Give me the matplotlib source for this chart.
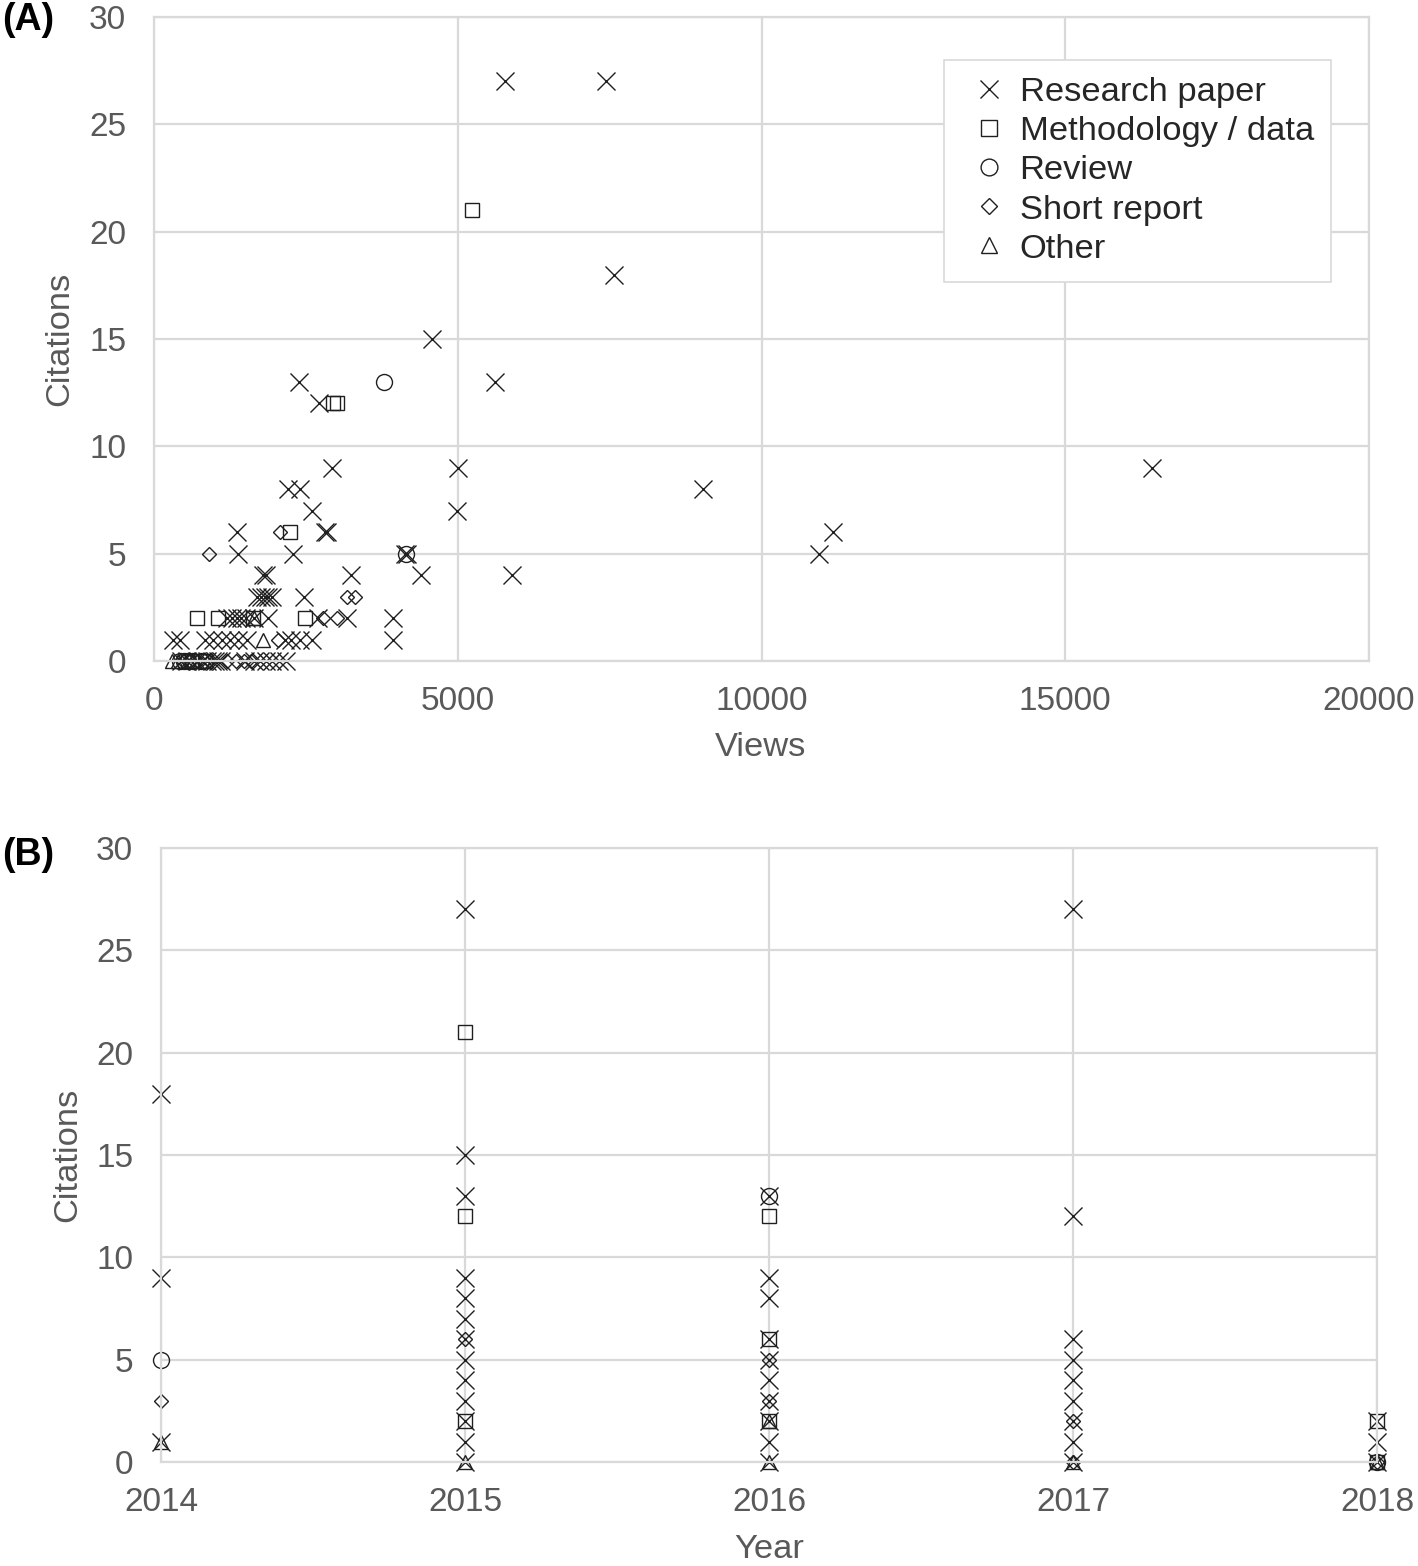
import matplotlib
matplotlib.use("Agg")
import matplotlib.pyplot as plt

plt.rcParams['font.family'] = ['Liberation Sans', 'DejaVu Sans']

# ---- panel A: views vs citations ----
res_views = [5780, 7440, 7570, 4580, 2390, 5610, 2720, 2930, 5000, 16430, 2200, 2400, 9040,
             2600, 4990, 1370, 2810, 2850, 11180, 1380, 2290, 4130, 4170, 10950,
             1800, 1850, 3240, 4390, 5890,
             1700, 1760, 1820, 1880, 1940, 2470,
             1200, 1280, 1360, 1440, 1520, 1650, 1880, 2700, 3180, 3930,
             310, 430, 840, 970, 1120, 1250, 1380, 1530, 2150, 2250, 2400, 2600, 3930,
             450, 550, 700, 800, 880, 950, 1000, 1050, 1100, 1500, 1650, 1750, 1850, 1950, 2050, 2180]
res_cit = [27, 27, 18, 15, 13, 13, 12, 9, 9, 9, 8, 8, 8,
           7, 7, 6, 6, 6, 6, 5, 5, 5, 5, 5,
           4, 4, 4, 4, 4,
           3, 3, 3, 3, 3, 3,
           2, 2, 2, 2, 2, 2, 2, 2, 2, 2,
           1, 1, 1, 1, 1, 1, 1, 1, 1, 1, 1, 1, 1,
           0, 0, 0, 0, 0, 0, 0, 0, 0, 0, 0, 0, 0, 0, 0, 0]
meth_views = [5230, 2950, 3010, 2240, 710, 1050, 1630, 2490, 620, 840]
meth_cit = [21, 12, 12, 6, 2, 2, 2, 2, 0, 0]
rev_views = [3790, 4150, 420, 500, 560, 650, 780]
rev_cit = [13, 5, 0, 0, 0, 0, 0]
short_views = [2070, 905, 3180, 3310, 2780, 3010, 2040, 480, 600, 720, 900, 1200, 1350, 1480, 1600]
short_cit = [6, 5, 3, 3, 2, 2, 1, 0, 0, 0, 0, 0, 0, 0, 0]
other_views = [1640, 1800, 290, 400, 650]
other_cit = [2, 1, 0, 0, 0]

# ---- panel B: year vs citations ----
res_year = [2014, 2014, 2014,
            2015, 2015, 2015, 2015, 2015, 2015, 2015, 2015, 2015, 2015, 2015, 2015, 2015,
            2016, 2016, 2016, 2016, 2016, 2016, 2016, 2016, 2016, 2016,
            2017, 2017, 2017, 2017, 2017, 2017, 2017, 2017, 2017,
            2018, 2018, 2018]
res_ycit = [18, 9, 1,
            27, 15, 13, 9, 8, 7, 6, 5, 4, 3, 2, 1, 0,
            13, 9, 8, 6, 5, 4, 3, 2, 1, 0,
            27, 12, 6, 5, 4, 3, 2, 1, 0,
            2, 1, 0]
meth_year = [2015, 2015, 2015, 2016, 2016, 2016, 2018, 2018]
meth_ycit = [21, 12, 2, 12, 6, 2, 2, 0]
rev_year = [2014, 2016, 2018]
rev_ycit = [5, 13, 0]
short_year = [2014, 2015, 2016, 2016, 2017, 2017, 2018]
short_ycit = [3, 6, 5, 3, 2, 0, 0]
other_year = [2014, 2015, 2016, 2016, 2017, 2018]
other_ycit = [1, 0, 2, 0, 0, 0]

labels = ['Research paper', 'Methodology / data', 'Review', 'Short report', 'Other']
markers = ['x', 's', 'o', 'D', '^']
msizes = [12.5, 10.5, 11.5, 7.6, 10.5]

ink = '#1f1f1f'
grid_c = '#d9d9d9'
tick_c = '#595959'

fig = plt.figure(figsize=(14.18, 15.66), dpi=100)
axA = fig.add_axes([0.1086, 0.5779, 0.8569, 0.4112])
axB = fig.add_axes([0.1135, 0.0664, 0.8576, 0.3921])


def style(ax):
    ax.set_axisbelow(True)
    ax.grid(True, color=grid_c, lw=1.6)
    for s in ax.spines.values():
        s.set_color(grid_c)
        s.set_linewidth(1.6)
    ax.tick_params(length=0, labelsize=24, labelcolor=tick_c)
    ax.tick_params(axis='y', pad=20)
    ax.tick_params(axis='x', pad=18)


setsA = [(res_views, res_cit), (meth_views, meth_cit), (rev_views, rev_cit),
         (short_views, short_cit), (other_views, other_cit)]
for (xs, ys), m, ms, lab in zip(setsA, markers, msizes, labels):
    axA.plot(xs, ys, ls='none', marker=m, ms=ms, mew=1.0, mec=ink, mfc='none',
             label=lab, clip_on=False)
axA.set_xlim(0, 20000)
axA.set_ylim(0, 30)
axA.set_xticks([0, 5000, 10000, 15000, 20000])
axA.set_yticks([0, 5, 10, 15, 20, 25, 30])
style(axA)
leg = axA.legend(loc='upper right', bbox_to_anchor=(0.9687, 0.9332), fontsize=24.8,
                 frameon=True, fancybox=False, edgecolor=grid_c, framealpha=1,
                 borderpad=0.5, handlelength=1.65, handletextpad=0.05,
                 labelspacing=0.23, borderaxespad=0, markerscale=1.05)
leg.get_frame().set_linewidth(1.2)
for t in leg.get_texts():
    t.set_color('#262626')

setsB = [(res_year, res_ycit), (meth_year, meth_ycit), (rev_year, rev_ycit),
         (short_year, short_ycit), (other_year, other_ycit)]
for (xs, ys), m, ms in zip(setsB, markers, msizes):
    axB.plot(xs, ys, ls='none', marker=m, ms=ms, mew=1.0, mec=ink, mfc='none',
             clip_on=False)
axB.set_xlim(2014, 2018)
axB.set_ylim(0, 30)
axB.set_xticks([2014, 2015, 2016, 2017, 2018])
axB.set_yticks([0, 5, 10, 15, 20, 25, 30])
style(axB)

# axis titles and panel letters
fig.text(761 / 1418, 1 - 748 / 1566, 'Views', ha='center', va='center', fontsize=24.8, color=tick_c)
fig.text(60 / 1418, 1 - 339 / 1566, 'Citations', ha='center', va='center', rotation=90,
         fontsize=24.8, color=tick_c)
fig.text(769 / 1418, 1 - 1550 / 1566, 'Year', ha='center', va='center', fontsize=24.8, color=tick_c)
fig.text(68 / 1418, 1 - 1155 / 1566, 'Citations', ha='center', va='center', rotation=90,
         fontsize=24.8, color=tick_c)
fig.text(2 / 1418, 1 - 20 / 1566, '(A)', ha='left', va='center', fontsize=27,
         fontweight='bold', color='black')
fig.text(2 / 1418, 1 - 855 / 1566, '(B)', ha='left', va='center', fontsize=27,
         fontweight='bold', color='black')

fig.savefig('out.png', dpi=100)
